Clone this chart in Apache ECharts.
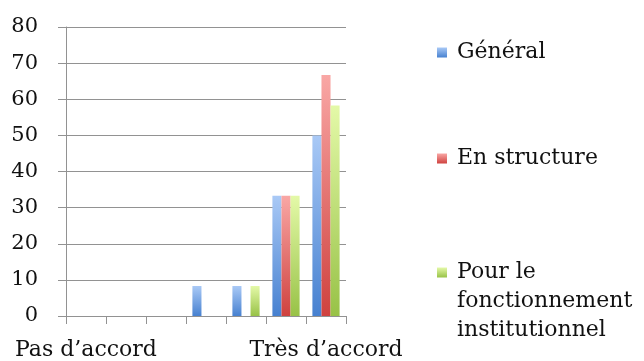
<!DOCTYPE html>
<html>
<head>
<meta charset="utf-8">
<script src="https://cdn.jsdelivr.net/npm/echarts@6/dist/echarts.min.js"></script>
<style>html,body{margin:0;padding:0;background:#fff}#c{width:644px;height:361px}</style>
</head>
<body>
<div id="c"></div>
<script>
const categories = ['Pas d\u2019accord', '', '', '', '', '', 'Très d\u2019accord'];
const seriesNames = ['Général', 'En structure', 'Pour le fonctionnement institutionnel'];
const legendLines = [['Général'], ['En structure'], ['Pour le', 'fonctionnement', 'institutionnel']];
const general = [0, 0, 0, 8.3, 8.3, 33.3, 50];
const enStructure = [0, 0, 0, 0, 0, 33.3, 66.7];
const fonctionnement = [0, 0, 0, 0, 8.3, 33.3, 58.3];
const yTicks = [0, 10, 20, 30, 40, 50, 60, 70, 80];

function grad(top, bottom) {
  return new echarts.graphic.LinearGradient(0, 0, 0, 1, [
    {offset: 0, color: top}, {offset: 1, color: bottom}
  ]);
}
const colors = [grad('#a9c9f6', '#4781d0'), grad('#f9a7a5', '#cf423f'), grad('#e4f9a8', '#98c247')];
const font = "'DejaVu Serif', serif";
const legendText = {fontFamily: font, fontSize: 22, color: '#111', lineHeight: 29,
  rich: {t: {fontFamily: font, fontSize: 22, color: '#111', lineHeight: 29, padding: [0, 0, 0, 5]}}};

function legendLabel(i) {
  const lines = legendLines[i];
  // empty lines above so the icon lines up with the first line of text
  const pad = new Array(lines.length - 1).fill('');
  return pad.concat(lines.map(l => '{t|' + l + '}')).join('\n');
}
function legend(i, top) {
  return {data: [seriesNames[i]], left: 437, top: top, padding: 0, itemWidth: 10, itemHeight: 10,
    icon: 'rect', formatter: () => legendLabel(i), textStyle: legendText};
}

const chart = echarts.init(document.getElementById('c'));
chart.setOption({
  animation: false,
  backgroundColor: '#fff',
  grid: {left: 66, right: 298, top: 27, bottom: 45},
  legend: [legend(0, 38), legend(1, 144), legend(2, 200)],
  xAxis: {
    type: 'category', data: categories,
    axisLine: {lineStyle: {color: '#929292', width: 1}},
    axisTick: {show: true, length: 8, lineStyle: {color: '#929292'}},
    axisLabel: {interval: 0, margin: 23, fontFamily: font, fontSize: 22, color: '#111'}
  },
  yAxis: {
    type: 'value', min: 0, max: 80, interval: 10,
    axisLine: {show: true, lineStyle: {color: '#929292'}},
    axisTick: {show: true, length: 8, lineStyle: {color: '#929292'}},
    splitLine: {lineStyle: {color: '#929292', width: 1}},
    axisLabel: {margin: 28, fontFamily: font, fontSize: 21, color: '#111',
      formatter: v => yTicks.includes(v) ? String(v) : ''}
  },
  series: [
    {name: seriesNames[0], type: 'bar', data: general, barGap: '0%', barCategoryGap: '32%', itemStyle: {color: colors[0]}},
    {name: seriesNames[1], type: 'bar', data: enStructure, barGap: '0%', barCategoryGap: '32%', itemStyle: {color: colors[1]}},
    {name: seriesNames[2], type: 'bar', data: fonctionnement, barGap: '0%', barCategoryGap: '32%', itemStyle: {color: colors[2]}}
  ]
});
</script>
</body>
</html>
